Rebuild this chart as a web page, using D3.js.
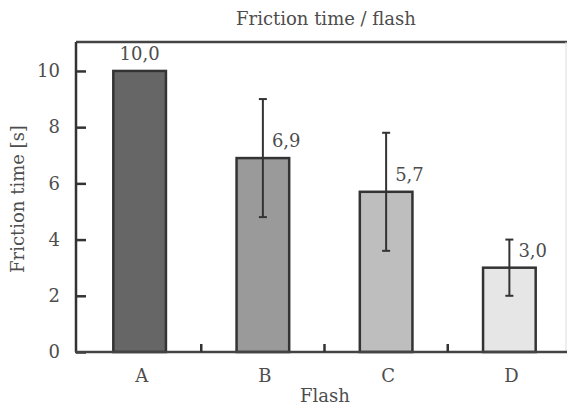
<!DOCTYPE html>
<html>
<head>
<meta charset="utf-8">
<script src="https://cdn.jsdelivr.net/npm/d3@7"></script>
<style>
  body { margin: 0; background: #fff; }
  text { font-family: "DejaVu Serif", serif; fill: #4d4d4d; }
</style>
</head>
<body>
<div id="chart"></div>
<script>
// data
var categories = ["A", "B", "C", "D"];
var values = [10.0, 6.9, 5.7, 3.0];
var errors = [0, 2.1, 2.1, 1.0];
var fills = ["#666666", "#9a9a9a", "#bebebe", "#e6e6e6"];
var yTicks = [0, 2, 4, 6, 8, 10];

var width = 567, height = 407;
var frame = {left: 76, top: 42, right: 566, bottom: 352};
var fs = 18;

var svg = d3.select("#chart").append("svg")
    .attr("width", width)
    .attr("height", height);

var y = d3.scaleLinear()
    .domain([0, 11.03])
    .range([frame.bottom, frame.top]);

var x = d3.scaleBand()
    .domain(categories)
    .range([78, 571])
    .paddingInner(0.573)
    .paddingOuter(0.2865);

var data = categories.map(function (c, i) {
    return {cat: c, value: values[i], err: errors[i], fill: fills[i]};
});

// frame: top and right lines
svg.append("line")
    .attr("x1", frame.left).attr("x2", width)
    .attr("y1", frame.top).attr("y2", frame.top)
    .attr("stroke", "#444").attr("stroke-width", 2.5);
svg.append("line")
    .attr("x1", frame.right).attr("x2", frame.right)
    .attr("y1", frame.top).attr("y2", frame.bottom)
    .attr("stroke", "#ddd").attr("stroke-width", 1);

// bars
svg.selectAll("rect.bar")
    .data(data)
    .enter()
    .append("rect")
    .attr("class", "bar")
    .attr("x", function (d) { return x(d.cat); })
    .attr("y", function (d) { return y(d.value); })
    .attr("width", x.bandwidth())
    .attr("height", function (d) { return y(0) - y(d.value); })
    .attr("fill", function (d) { return d.fill; })
    .attr("stroke", "#333")
    .attr("stroke-width", 2.5);

// error bars
var errData = data.filter(function (d) { return d.err > 0; });
var eb = svg.selectAll("g.err")
    .data(errData)
    .enter()
    .append("g")
    .attr("class", "err");
eb.append("line")
    .attr("x1", function (d) { return x(d.cat) + x.bandwidth() / 2; })
    .attr("x2", function (d) { return x(d.cat) + x.bandwidth() / 2; })
    .attr("y1", function (d) { return y(d.value - d.err); })
    .attr("y2", function (d) { return y(d.value + d.err); })
    .attr("stroke", "#333").attr("stroke-width", 2);
[-1, 1].forEach(function (s) {
    eb.append("line")
        .attr("x1", function (d) { return x(d.cat) + x.bandwidth() / 2 - 4; })
        .attr("x2", function (d) { return x(d.cat) + x.bandwidth() / 2 + 4; })
        .attr("y1", function (d) { return y(d.value + s * d.err); })
        .attr("y2", function (d) { return y(d.value + s * d.err); })
        .attr("stroke", "#333").attr("stroke-width", 2);
});

// value labels
svg.selectAll("text.val")
    .data(data)
    .enter()
    .append("text")
    .attr("class", "val")
    .attr("x", function (d) {
        var cx = x(d.cat) + x.bandwidth() / 2;
        return d.err > 0 ? cx + 9 : cx;
    })
    .attr("y", function (d) { return y(d.value) - 11; })
    .attr("text-anchor", function (d) { return d.err > 0 ? "start" : "middle"; })
    .attr("font-size", fs)
    .text(function (d) { return d3.format(".1f")(d.value).replace(".", ","); });

// y axis
var yAxis = svg.append("g")
    .attr("transform", "translate(" + frame.left + ",0)")
    .call(d3.axisRight(y).tickValues(yTicks).tickSize(10).tickFormat(""));
yAxis.select(".domain").attr("stroke", "#333").attr("stroke-width", 2.5)
    .attr("d", "M0," + frame.top + "V" + frame.bottom);
yAxis.selectAll(".tick line").attr("stroke", "#333").attr("stroke-width", 2.5);

svg.selectAll("text.ytick")
    .data(yTicks)
    .enter()
    .append("text")
    .attr("class", "ytick")
    .attr("x", 60)
    .attr("y", function (d) { return y(d); })
    .attr("dy", "0.35em")
    .attr("text-anchor", "end")
    .attr("font-size", fs)
    .text(function (d) { return d; });

// x axis
svg.append("line")
    .attr("x1", frame.left - 1).attr("x2", width)
    .attr("y1", frame.bottom).attr("y2", frame.bottom)
    .attr("stroke", "#444").attr("stroke-width", 2.5);
svg.selectAll("line.xtick")
    .data(categories.slice(1))
    .enter()
    .append("line")
    .attr("class", "xtick")
    .attr("x1", function (d) { return x(d) - x.step() * x.paddingInner() / 2; })
    .attr("x2", function (d) { return x(d) - x.step() * x.paddingInner() / 2; })
    .attr("y1", frame.bottom).attr("y2", frame.bottom - 8)
    .attr("stroke", "#333").attr("stroke-width", 2.5);

svg.selectAll("text.xlab")
    .data(categories)
    .enter()
    .append("text")
    .attr("class", "xlab")
    .attr("x", function (d) { return x(d) + x.bandwidth() / 2 + 2; })
    .attr("y", 382)
    .attr("text-anchor", "middle")
    .attr("font-size", fs)
    .text(function (d) { return d; });

// titles
svg.append("text")
    .attr("x", 326).attr("y", 25)
    .attr("text-anchor", "middle")
    .attr("font-size", fs)
    .text("Friction time / flash");

svg.append("text")
    .attr("x", 325).attr("y", 402)
    .attr("text-anchor", "middle")
    .attr("font-size", fs)
    .text("Flash");

svg.append("text")
    .attr("transform", "translate(24,199) rotate(-90)")
    .attr("text-anchor", "middle")
    .attr("font-size", fs)
    .text("Friction time [s]");
</script>
</body>
</html>
